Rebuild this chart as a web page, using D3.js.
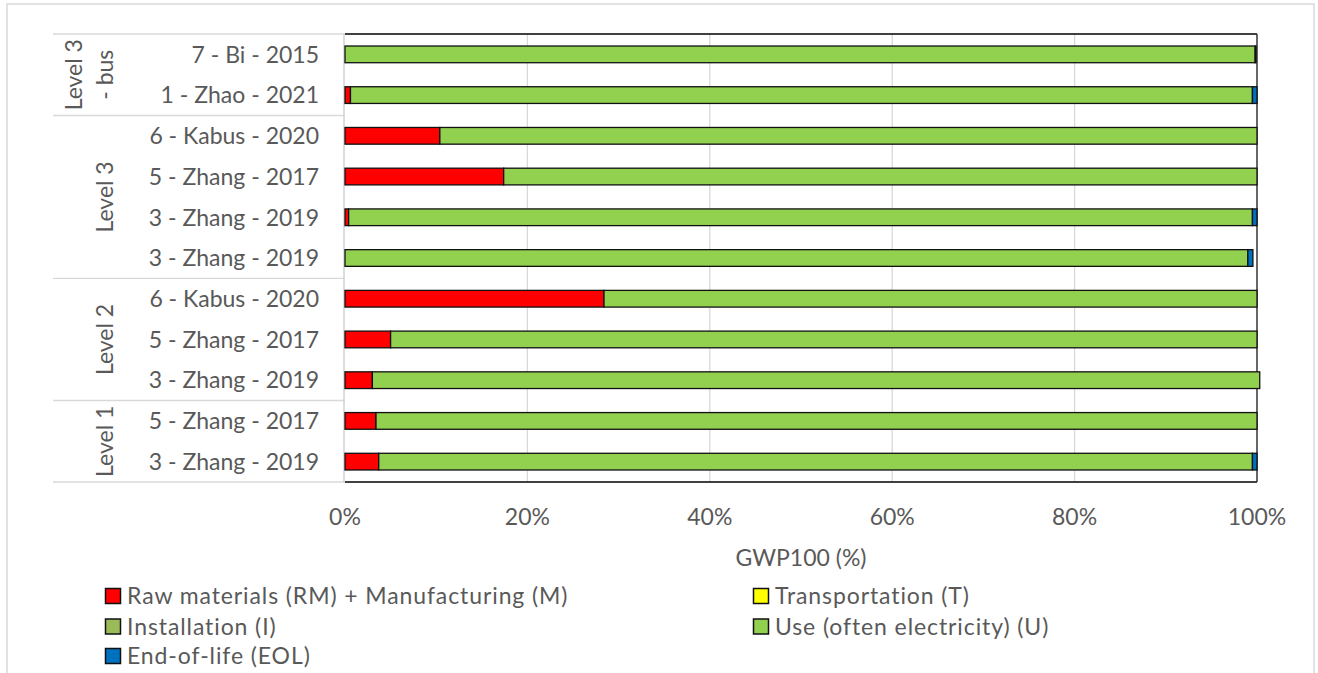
<!DOCTYPE html>
<html>
<head>
<meta charset="utf-8">
<script src="https://cdn.jsdelivr.net/npm/d3@7"></script>
<style>
  html, body { margin: 0; padding: 0; background: #ffffff; }
  svg { display: block; }
  text { font-family: Lato, "Open Sans", sans-serif; fill: #595959; font-variant-ligatures: none; font-feature-settings: "liga" 0; }
</style>
</head>
<body>
<svg id="chart" width="1318" height="673"></svg>
<script>
// Studies, listed top to bottom
const categories = [
  "7 - Bi - 2015", "1 - Zhao - 2021",
  "6 - Kabus - 2020", "5 - Zhang - 2017", "3 - Zhang - 2019", "3 - Zhang - 2019",
  "6 - Kabus - 2020", "5 - Zhang - 2017", "3 - Zhang - 2019",
  "5 - Zhang - 2017", "3 - Zhang - 2019"
];

// Group of each study (outer category level)
const groupNames = [["Level 3", "- bus"], ["Level 3"], ["Level 2"], ["Level 1"]];
const groupSizes = [2, 4, 3, 2];

// Share of GWP100 per life-cycle stage (%), same order as categories
const rawMaterials   = [0,   0.6, 10.4, 17.4, 0.4, 0,    28.4, 5.0, 3.0, 3.4, 3.7];
const transportation = [0,   0,   0,    0,    0,   0,    0,    0,   0,   0,   0];
const installation   = [0,   0,   0,    0,    0,   0,    0,    0,   0,   0,   0];
const useStage       = [99.8, 98.9, 89.6, 82.6, 99.1, 99.0, 71.6, 95.0, 97.3, 96.6, 95.8];
const endOfLife      = [0.1, 0.5, 0,    0,    0.5, 0.55, 0,    0,   0,   0,   0.5];

const seriesNames = [
  "Raw materials (RM) + Manufacturing (M)",
  "Transportation (T)",
  "Installation (I)",
  "Use (often electricity) (U)",
  "End-of-life (EOL)"
];
const seriesColors = ["#ff0000", "#ffff00", "#9bbb59", "#92d050", "#0070c0"];
const seriesValues = [rawMaterials, transportation, installation, useStage, endOfLife];

const xTicks = [0, 20, 40, 60, 80, 100];
const xTitle = "GWP100 (%)";

const svg = d3.select("#chart");
const FONT = 23;

// outer frame
svg.append("rect")
  .attr("x", 7).attr("y", 4).attr("width", 1307).attr("height", 720)
  .attr("fill", "none").attr("stroke", "#d9d9d9").attr("stroke-width", 1.5);

const plot = { left: 345, right: 1257, top: 34, bottom: 482 };

const x = d3.scaleLinear().domain([0, 100]).range([plot.left, plot.right]);
const y = d3.scaleBand()
  .domain(d3.range(categories.length))
  .range([plot.top, plot.bottom])
  .paddingInner(0.59)
  .paddingOuter(0.295);

// stacked table
const rows = categories.map((c, i) => {
  const r = { idx: i };
  seriesNames.forEach((s, k) => { r[s] = seriesValues[k][i]; });
  return r;
});
const stacked = d3.stack().keys(seriesNames)(rows);

// vertical gridlines
svg.append("g")
  .selectAll("line")
  .data(xTicks.filter(t => t > 0 && t < 100))
  .join("line")
  .attr("x1", d => x(d)).attr("x2", d => x(d))
  .attr("y1", plot.top).attr("y2", plot.bottom)
  .attr("stroke", "#d9d9d9").attr("stroke-width", 1.3);

// plot border
svg.append("line").attr("x1", plot.left).attr("x2", plot.right)
  .attr("y1", plot.top).attr("y2", plot.top).attr("stroke", "#000").attr("stroke-width", 1.6);
svg.append("line").attr("x1", plot.left).attr("x2", plot.right)
  .attr("y1", plot.bottom).attr("y2", plot.bottom).attr("stroke", "#000").attr("stroke-width", 1.6);
svg.append("line").attr("x1", plot.right).attr("x2", plot.right)
  .attr("y1", plot.top).attr("y2", plot.bottom).attr("stroke", "#262626").attr("stroke-width", 1.4);

// category axis lines (group separators and the axis itself)
const catAxisLeft = 53;
let acc = 0;
const boundaries = [0];
groupSizes.forEach(s => { acc += s; boundaries.push(acc); });
const step = y.step();
const yBoundary = b => plot.top + b * step;

svg.append("g")
  .selectAll("line")
  .data(boundaries)
  .join("line")
  .attr("x1", catAxisLeft).attr("x2", plot.left)
  .attr("y1", d => yBoundary(d)).attr("y2", d => yBoundary(d))
  .attr("stroke", "#d9d9d9").attr("stroke-width", 1.4);

svg.append("line")
  .attr("x1", plot.left - 1).attr("x2", plot.left - 1)
  .attr("y1", plot.top).attr("y2", plot.bottom)
  .attr("stroke", "#d0d0d0").attr("stroke-width", 1.4);

// bars
svg.append("g")
  .selectAll("g")
  .data(stacked)
  .join("g")
  .attr("fill", (d, k) => seriesColors[k])
  .selectAll("rect")
  .data(d => d.filter(p => p[1] - p[0] > 0))
  .join("rect")
  .attr("x", p => x(p[0]))
  .attr("width", p => x(p[1]) - x(p[0]))
  .attr("y", p => y(p.data.idx))
  .attr("height", y.bandwidth())
  .attr("stroke", "#111")
  .attr("stroke-width", 1.3);

// inner category labels
svg.append("g")
  .selectAll("text")
  .data(categories)
  .join("text")
  .attr("x", 319)
  .attr("y", (d, i) => y(i) + y.bandwidth() / 2)
  .attr("dy", "0.36em")
  .attr("text-anchor", "end")
  .attr("font-size", FONT)
  .text(d => d);

// outer group labels, rotated
groupNames.forEach((lines, g) => {
  const cy = (yBoundary(boundaries[g]) + yBoundary(boundaries[g + 1])) / 2;
  const baseX = 113;
  const lineGap = 31;
  lines.forEach((ln, j) => {
    const bx = baseX - (lines.length - 1 - j) * lineGap;
    svg.append("text")
      .attr("transform", `translate(${bx},${cy}) rotate(-90)`)
      .attr("text-anchor", "middle")
      .attr("font-size", FONT)
      .text(ln);
  });
});

// value axis tick labels
svg.append("g")
  .selectAll("text")
  .data(xTicks)
  .join("text")
  .attr("x", d => x(d))
  .attr("y", 525)
  .attr("text-anchor", "middle")
  .attr("font-size", FONT)
  .text(d => d + "%");

// axis title
svg.append("text")
  .attr("x", (plot.left + plot.right) / 2)
  .attr("y", 566)
  .attr("text-anchor", "middle")
  .attr("font-size", FONT)
  .text(xTitle);

// legend
const legendCols = [105, 753];
const legendRows = [596, 626.5, 656];
const legend = svg.append("g")
  .selectAll("g")
  .data(seriesNames)
  .join("g")
  .attr("transform", (d, i) => `translate(${legendCols[i % 2]},${legendRows[Math.floor(i / 2)]})`);
legend.append("rect")
  .attr("x", 0.5).attr("y", -7.5)
  .attr("width", 15).attr("height", 15)
  .attr("fill", (d, i) => seriesColors[i])
  .attr("stroke", "#111").attr("stroke-width", 1.5);
legend.append("text")
  .attr("x", 22)
  .attr("dy", "0.36em")
  .attr("font-size", FONT)
  .attr("letter-spacing", 0.9)
  .text(d => d);
</script>
</body>
</html>
